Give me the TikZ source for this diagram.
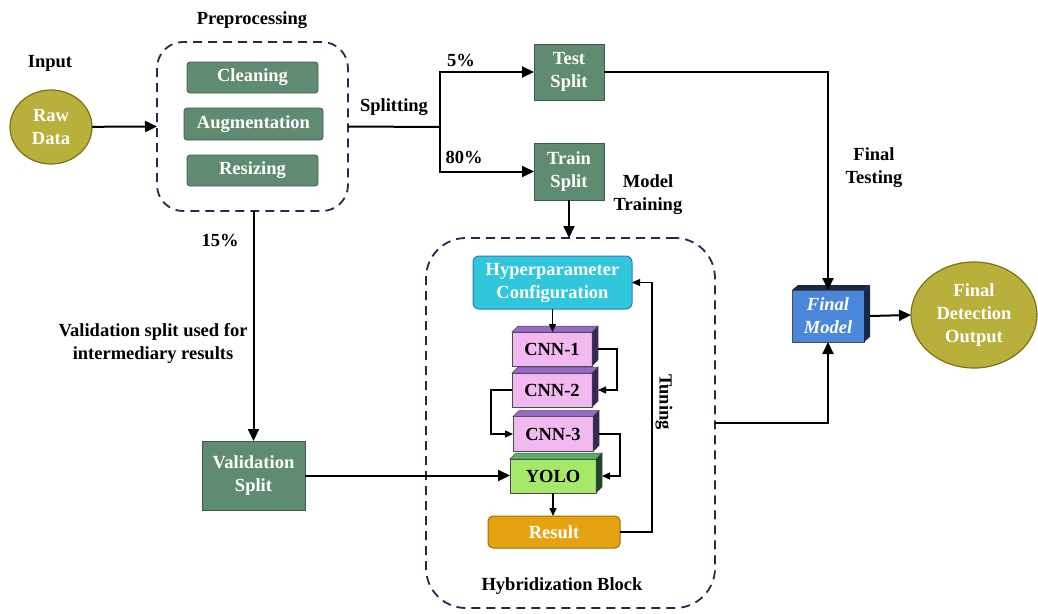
\documentclass[tikz,border=0pt]{standalone}
\usepackage{fontspec}
\setmainfont{Liberation Serif}
\usetikzlibrary{arrows.meta,shapes.geometric}
\definecolor{gbox}{RGB}{96,139,115}
\definecolor{gboxd}{RGB}{60,92,75}
\definecolor{olive}{RGB}{184,176,58}
\definecolor{olived}{RGB}{125,114,20}
\definecolor{navy}{RGB}{31,45,74}
\definecolor{cyanf}{RGB}{48,198,219}
\definecolor{cyand}{RGB}{46,123,192}
\definecolor{orangef}{RGB}{229,163,18}
\definecolor{oranged}{RGB}{160,108,0}
\definecolor{pinkf}{RGB}{242,184,240}
\definecolor{pinkt}{RGB}{150,105,200}
\definecolor{pinks}{RGB}{55,40,80}
\definecolor{yolof}{RGB}{166,232,106}
\definecolor{yolot}{RGB}{90,175,105}
\definecolor{yolos}{RGB}{30,70,40}
\definecolor{fmf}{RGB}{74,134,218}
\definecolor{fms}{RGB}{25,40,70}
\tikzset{
  every node/.style={font=\fontsize{18.5}{23}\selectfont\bfseries, align=center, outer sep=0pt},
  lbl/.style={text=black},
  gstep/.style={draw=gboxd, fill=gbox, text=white, line width=0.8pt},
  oval/.style={ellipse, draw=olived, fill=olive, text=white, line width=1.2pt},
  dbox/.style={draw=navy, dashed, dash pattern=on 9pt off 6pt, line width=1.8pt},
  arr/.style={line width=2pt, -{Triangle[length=12pt,width=11pt]}},
  ln/.style={line width=2pt},
  sarr/.style={line width=1.3pt, -{Triangle[length=8pt,width=7pt]}},
  cube/.style={draw=black!70, line width=0.6pt, inner sep=0pt},
}
\begin{document}
\begin{tikzpicture}[x=1pt,y=-1pt]
\useasboundingbox (0,0) rectangle (1038,613);
% labels
\node[lbl] (inlbl) at (50,63) {Input};
\node[lbl] (prelbl) at (252,20) {Preprocessing};
\node[lbl] (splbl) at (394,107) {Splitting};
\node[lbl] (p5) at (461,60) {5\%};
\node[lbl] (p80) at (464,157) {80\%};
\node[lbl] (p15) at (220,240) {15\%};
\node[lbl] (mtlbl) at (648,195) {Model\\Training};
\node[lbl] (ftlbl) at (874,168) {Final\\Testing};
\node[lbl] (vlbl) at (153,343) {Validation split used for\\intermediary results};
\node[lbl] (hblbl) at (562,586) {Hybridization Block};
\node[lbl, rotate=-90] (tunlbl) at (664,402) {Tuning};
% input
\node[oval, minimum width=82pt, minimum height=74pt] (raw) at (51,127) {Raw\\Data};
% preprocessing
\node[dbox, rounded corners=26pt, minimum width=191pt, minimum height=169pt] (prep) at (252.5,126.5) {};
\node[gstep, rounded corners=3pt, minimum width=131pt, minimum height=31pt] (clean) at (252.5,77.5) {Cleaning};
\node[gstep, rounded corners=3pt, minimum width=139pt, minimum height=32pt] (aug) at (253.5,124) {Augmentation};
\node[gstep, rounded corners=3pt, minimum width=131pt, minimum height=31pt] (res) at (252.5,170.5) {Resizing};
% splits
\coordinate (split) at (440,127);
\node[gstep, minimum width=70pt, minimum height=56pt] (test) at (569,72) {Test\\Split};
\node[gstep, minimum width=70pt, minimum height=57pt] (train) at (569,171.5) {Train\\Split};
\node[gstep, minimum width=103pt, minimum height=69pt] (valid) at (253.5,475.5) {Validation\\Split};
% hybrid block
\node[dbox, rounded corners=40pt, minimum width=289pt, minimum height=370pt] (hyb) at (570.5,423) {};
\node[draw=cyand, fill=cyanf, text=white, rounded corners=6pt, line width=1pt, inner sep=2pt, minimum width=159pt, minimum height=53pt] (hyper) at (552.5,282.5) {Hyperparameter\\Configuration};
\node[cube, fill=pinkf, minimum width=80pt, minimum height=34pt] (c1) at (552,349) {CNN-1};
\node[cube, fill=pinkf, minimum width=80pt, minimum height=34pt] (c2) at (552,390) {CNN-2};
\node[cube, fill=pinkf, minimum width=80pt, minimum height=35pt] (c3) at (553,434) {CNN-3};
\node[cube, fill=yolof, minimum width=86pt, minimum height=34pt] (yolo) at (553,476) {YOLO};
\node[draw=oranged, fill=orangef, text=white, rounded corners=5pt, line width=1pt, minimum width=132pt, minimum height=32pt] (result) at (554,532) {Result};
\foreach \n/\t/\s in {c1/pinkt/pinks, c2/pinkt/pinks, c3/pinkt/pinks, yolo/yolot/yolos}{
  \filldraw[fill=\t, draw=black!70, line width=0.5pt] (\n.north west) -- ++(6,-6) -- ([shift={(6,-6)}]\n.north east) -- (\n.north east) -- cycle;
  \filldraw[fill=\s, draw=black!70, line width=0.5pt] (\n.north east) -- ++(6,-6) -- ([shift={(6,-6)}]\n.south east) -- (\n.south east) -- cycle;
}
% final
\node[cube, fill=fmf, text=white, font=\fontsize{18.5}{23}\selectfont\bfseries\itshape, minimum width=72pt, minimum height=52pt] (fm) at (828,316) {Final\\Model};
\fill[fms] (fm.north west) -- ++(6,-5) -- ([shift={(6,-5)}]fm.north east) -- (fm.north east) -- cycle;
\fill[fms] (fm.north east) -- ++(6,-5) -- ([shift={(6,-5)}]fm.south east) -- (fm.south east) -- cycle;
\node[oval, minimum width=126pt, minimum height=106pt, inner sep=0pt] (fdo) at (974,315) {Final\\Detection\\Output};
% connectors
\draw[arr] (raw) -- (prep.west);
\draw[ln] (prep.east) -- (split);
\draw[arr] (split) |- (test.west);
\draw[arr] (split) |- (train.west);
\draw[arr] (train.south) -- (train.south |- hyb.north);
\draw[arr] (test.east) -| (fm.north);
\draw[arr] (hyb.east) -| (fm.south);
\draw[arr] ([xshift=6pt]fm.east) -- (fdo.west);
\draw[arr] (prep.south -| valid.north) -- (valid.north);
\draw[arr] (valid.east) -- (valid.east -| yolo.west);
\draw[sarr] (hyper.south) -- (hyper.south |- c1.north);
\draw[sarr] ([xshift=6pt]c1.east) -- ++(19,0) |- ([xshift=6pt]c2.east);
\draw[sarr] (c2.west) -- ++(-21,0) |- (c3.west);
\draw[sarr] ([xshift=6pt]c3.east) -- ++(21,0) |- ([xshift=6pt]yolo.east);
\draw[sarr] (yolo.south) -- (yolo.south |- result.north);
\draw[sarr] (result.east) -- ++(32,0) |- (hyper.east);
\end{tikzpicture}
\end{document}
